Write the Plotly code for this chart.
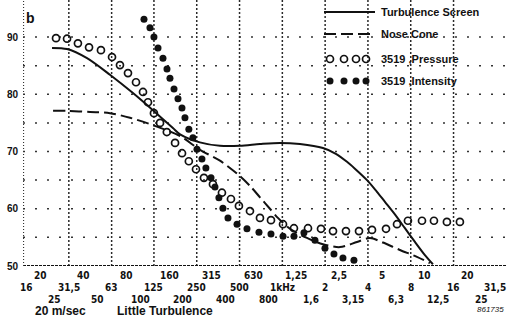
import math
import plotly.graph_objects as go

# ---------------- data ----------------
screen_f = [24, 30.6, 42.3, 61.3, 89, 123, 170, 191, 263, 364, 503, 696, 962, 1330, 1931, 2380, 2850, 3240, 3940, 4480, 5269, 6191, 7281, 8563, 10065, 11460]
screen_db = [88.1, 87.9, 86.3, 83.4, 80.2, 77.2, 74.1, 73.0, 71.6, 71.0, 71.0, 71.3, 71.5, 71.3, 70.6, 69.6, 68.2, 67.0, 65.0, 63.4, 61.2, 59.0, 56.6, 54.2, 51.9, 50.3]

nose_f = [24.4, 30.6, 44.4, 61.3, 84.8, 123, 191, 263, 364, 487, 592, 696, 818, 931, 1131, 1490, 1931, 2542, 3349, 4133, 5099, 6714, 8843, 10910]
nose_db = [77.1, 77.1, 76.9, 76.7, 75.9, 74.6, 72.7, 70.3, 68.4, 66.0, 64.0, 62.0, 60.0, 58.4, 56.5, 54.9, 53.8, 53.3, 54.2, 54.9, 54.1, 52.8, 51.6, 50.5]

pressure_f = [25.6, 30.6, 36.5, 43.7, 53.0, 63.4, 72.1, 82.1, 93.5, 104.7, 113.5, 125, 138, 154, 176, 197, 220, 247, 281, 325, 376, 435, 495, 592, 696, 832, 1011, 1207, 1515, 1870, 2272, 2802, 3461, 4272, 5360, 6405, 7645, 9600, 11650, 14370, 17740]
pressure_db = [89.8, 89.7, 88.9, 88.2, 87.7, 86.5, 85.1, 83.7, 82.1, 80.4, 78.6, 76.7, 75.0, 73.4, 71.5, 69.7, 68.3, 66.9, 65.4, 64.3, 62.8, 61.7, 60.5, 59.6, 58.4, 58.0, 57.3, 56.6, 56.6, 56.5, 56.1, 56.1, 56.1, 56.3, 56.5, 57.3, 57.9, 57.9, 57.9, 57.7, 57.7]

intensity_f = [106.4, 117.2, 125, 133.5, 144.7, 154.4, 162, 173, 184.5, 196.9, 206.6, 220, 235, 251, 272, 290, 315, 336, 358, 382, 414.6, 480, 564, 685, 832, 1011, 1207, 1419, 1696, 1994, 2307, 2669, 3189]
intensity_db = [93.1, 91.6, 90.0, 88.1, 86.3, 84.4, 82.8, 80.9, 79.2, 77.6, 75.9, 73.9, 72.4, 70.4, 68.7, 67.1, 65.4, 63.8, 61.9, 60.1, 58.4, 57.3, 56.5, 55.9, 55.6, 55.2, 55.2, 55.8, 54.5, 53.1, 52.1, 51.4, 51.0]

series_names = ["Turbulence Screen", "Nose Cone", "3519 ,Pressure", "3519 ,Intensity"]

grid_freqs = [31.5, 63, 125, 250, 500, 1000, 2000, 4000, 8000, 16000]
grid_db = [55, 60, 65, 70, 75, 80, 85, 90]
y_ticks = [50, 60, 70, 80, 90]

row1_f = [20, 40, 80, 160, 315, 630, 1250, 2500, 5000, 10000, 20000]
row1_lbl = ["20", "40", "80", "160", "315", "630", "1,25", "2,5", "5", "10", "20"]
row2_f = [16, 31.5, 63, 125, 250, 500, 1000, 2000, 4000, 8000, 16000, 31500]
row2_lbl = ["16", "31,5", "63", "125", "250", "500", "1kHz", "2", "4", "8", "16", "31,5"]
row3_f = [25, 50, 100, 200, 400, 800, 1600, 3150, 6300, 12500, 25000]
row3_lbl = ["25", "50", "100", "200", "400", "800", "1,6", "3,15", "6,3", "12,5", "25"]

# ---------------- layout geometry ----------------
W, H = 507, 322
ML, MR, MT, MB = 23, 0, 0, 56
PW, PH = W - ML - MR, H - MT - MB
k = math.log10(2) / 42.8          # log10 per pixel
x0 = math.log10(16) - 4 * k
x1 = x0 + PW * k
Y0, Y1 = 50, 50 + PH / 5.725
F_LEFT, F_RIGHT = 10 ** x0, 10 ** x1

def py(p):  # pixel y -> paper y
    return 1 - (p - MT) / PH

def fx(f):  # frequency -> paper x
    return (math.log10(f) - x0) / (x1 - x0)

def dy(v):  # dB -> paper y
    return (v - Y0) / (Y1 - Y0)

FONT = "Liberation Sans, Arial, sans-serif"
NARROW = "Liberation Sans Narrow, DejaVu Sans Condensed, Liberation Sans, sans-serif"
INK = "#111111"

fig = go.Figure()

# grid (dotted) as plain line traces under the data
gx, gy = [], []
for f in grid_freqs:
    gx += [f, f, None]
    gy += [Y0, Y1, None]
fig.add_trace(go.Scatter(x=gx, y=gy, mode="lines", line=dict(color="#2a2a2a", width=1.5, dash="2px,2px"),
                         showlegend=False, hoverinfo="skip"))
hx, hy = [], []
for v in grid_db:
    hx += [F_LEFT, F_RIGHT, None]
    hy += [v, v, None]
fig.add_trace(go.Scatter(x=hx, y=hy, mode="lines", line=dict(color="#333333", width=1.5, dash="2px,10px"),
                         showlegend=False, hoverinfo="skip"))
fig.add_trace(go.Scatter(x=[F_LEFT, F_RIGHT], y=[Y0 + 0.05, Y0 + 0.05], mode="lines",
                         line=dict(color=INK, width=1.5, dash="3px,1px"), showlegend=False, hoverinfo="skip"))
fig.add_trace(go.Scatter(x=[F_LEFT * 1.006, F_LEFT * 1.006], y=[Y0, Y1], mode="lines",
                         line=dict(color="#333333", width=1.5, dash="1px,2px"), showlegend=False, hoverinfo="skip"))

fig.add_trace(go.Scatter(x=screen_f, y=screen_db, mode="lines", name=series_names[0],
                         line=dict(color=INK, width=2, shape="spline", smoothing=0.8)))
fig.add_trace(go.Scatter(x=nose_f, y=nose_db, mode="lines", name=series_names[1],
                         line=dict(color=INK, width=2, dash="12px,5px", shape="spline", smoothing=0.8)))
fig.add_trace(go.Scatter(x=pressure_f, y=pressure_db, mode="markers", name=series_names[2],
                         marker=dict(symbol="circle-open", size=7, color=INK, line=dict(width=1.7, color=INK))))
fig.add_trace(go.Scatter(x=intensity_f, y=intensity_db, mode="markers", name=series_names[3],
                         marker=dict(symbol="circle", size=7, color=INK)))

# legend drawn on a pixel overlay axis
lx0, lx1, ltx = 324, 375, 379
rows = [12, 34, 59, 81]
mk_x = [330, 344, 356, 366]
fig.add_trace(go.Scatter(x=[lx0, lx1], y=[rows[0]] * 2, xaxis="x2", yaxis="y2", mode="lines",
                         line=dict(color=INK, width=2), showlegend=False, hoverinfo="skip"))
fig.add_trace(go.Scatter(x=[lx0, lx1], y=[rows[1]] * 2, xaxis="x2", yaxis="y2", mode="lines",
                         line=dict(color=INK, width=2, dash="12px,5px"), showlegend=False, hoverinfo="skip"))
fig.add_trace(go.Scatter(x=mk_x, y=[rows[2]] * 4, xaxis="x2", yaxis="y2", mode="markers",
                         marker=dict(symbol="circle-open", size=7, color=INK, line=dict(width=1.7, color=INK)),
                         showlegend=False, hoverinfo="skip"))
fig.add_trace(go.Scatter(x=mk_x, y=[rows[3]] * 4, xaxis="x2", yaxis="y2", mode="markers",
                         marker=dict(symbol="circle", size=7, color=INK), showlegend=False, hoverinfo="skip"))

ann = []
for r, name in zip(rows, series_names):
    ann.append(dict(x=ltx, y=r, xref="x2", yref="y2", text="<b>" + name + "</b>", showarrow=False,
                    xanchor="left", yanchor="middle", font=dict(family=FONT, size=11, color=INK)))

for fs, ls, ypix in [(row1_f, row1_lbl, 275), (row2_f, row2_lbl, 287), (row3_f, row3_lbl, 299)]:
    for f, l in zip(fs, ls):
        ann.append(dict(x=fx(f), y=py(ypix), xref="paper", yref="paper", text="<b>" + l + "</b>",
                        showarrow=False, xanchor="center", yanchor="middle",
                        font=dict(family=NARROW, size=10, color=INK)))

for v in y_ticks:
    ann.append(dict(x=(21 - ML) / PW, y=dy(v), xref="paper", yref="paper", text="<b>%d</b>" % v,
                    showarrow=False, xanchor="right", yanchor="middle",
                    font=dict(family=FONT, size=10, color=INK)))

ann.append(dict(x=(60 - ML) / PW, y=py(311), xref="paper", yref="paper", text="<b>20 m/sec</b>", showarrow=False,
                xanchor="center", yanchor="middle", font=dict(family=FONT, size=12, color=INK)))
ann.append(dict(x=(165 - ML) / PW, y=py(311), xref="paper", yref="paper", text="<b>Little Turbulence</b>",
                showarrow=False, xanchor="center", yanchor="middle", font=dict(family=FONT, size=12, color=INK)))
ann.append(dict(x=(506 - ML) / PW, y=py(309), xref="paper", yref="paper", text="<i>861735</i>", showarrow=False,
                xanchor="right", yanchor="middle", font=dict(family=FONT, size=8, color=INK)))
ann.append(dict(x=(30 - ML) / PW, y=py(18), xref="paper", yref="paper", text="<b>b</b>", showarrow=False,
                xanchor="center", yanchor="middle", font=dict(family=FONT, size=14, color=INK)))

fig.update_layout(
    width=W, height=H, margin=dict(l=ML, r=MR, t=MT, b=MB),
    paper_bgcolor="white", plot_bgcolor="white", showlegend=False,
    font=dict(family=FONT, color=INK),
    xaxis=dict(type="log", range=[x0, x1], showticklabels=False, ticks="", showgrid=False,
               zeroline=False, showline=False, fixedrange=True),
    yaxis=dict(range=[Y0, Y1], showticklabels=False, ticks="", showgrid=False, zeroline=False,
               showline=False, fixedrange=True),
    xaxis2=dict(range=[ML, W - MR], overlaying="x", visible=False, fixedrange=True),
    yaxis2=dict(range=[MT + PH, MT], overlaying="y", visible=False, fixedrange=True),
    annotations=ann,
)

fig.write_html("out.html")
